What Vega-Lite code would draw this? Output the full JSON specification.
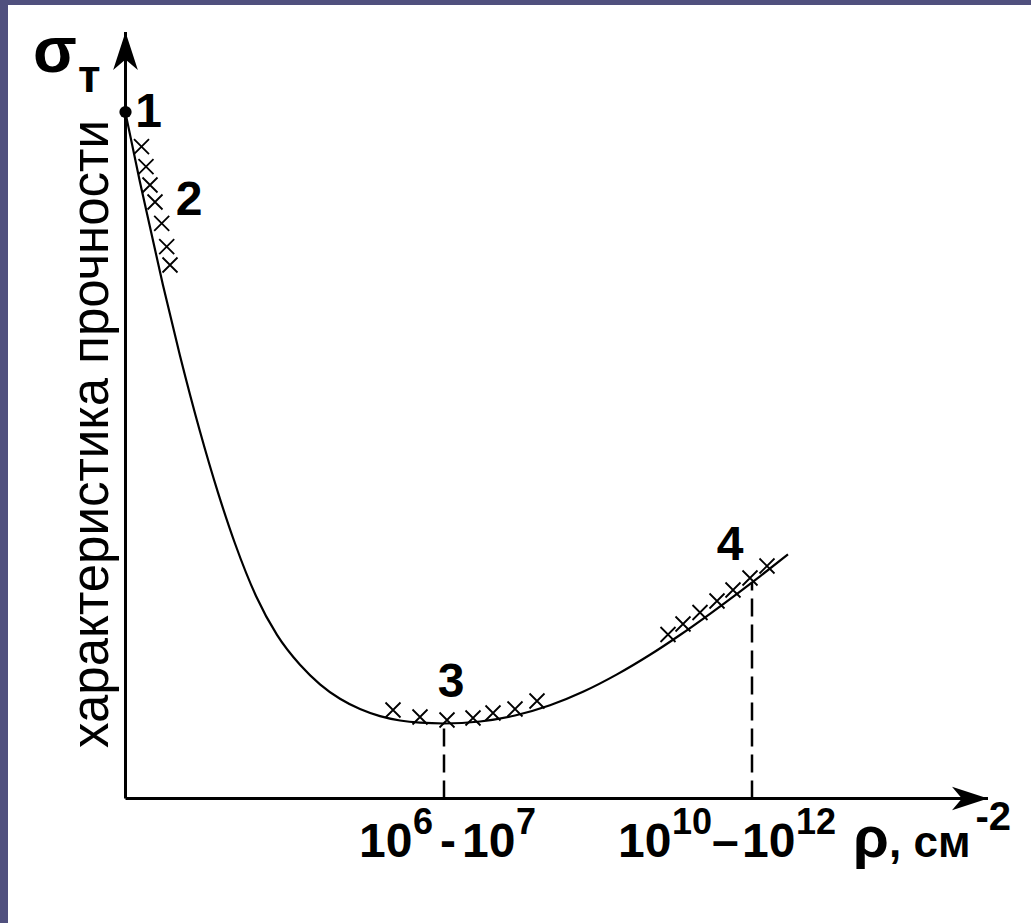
{
  "$schema": "https://vega.github.io/schema/vega-lite/v6.json",
  "width": 1031,
  "height": 923,
  "autosize": {"type": "fit", "contains": "padding"},
  "padding": {"left": 8, "top": 5, "right": 0, "bottom": 0},
  "background": "#50507e",
  "config": {"view": {"fill": "#ffffff", "stroke": null}, "axis": {"disable": true}},
  "datasets": {
    "curve": [
      {"x": 0, "y": 68.55}, {"x": 1.45, "y": 61.62}, {"x": 3.75, "y": 51.32}, {"x": 5.45, "y": 44.28},
      {"x": 7.45, "y": 36.7}, {"x": 9.25, "y": 30.59}, {"x": 10.95, "y": 25.5}, {"x": 13.05, "y": 20.25},
      {"x": 15.15, "y": 16.36}, {"x": 17.45, "y": 13.37}, {"x": 19.45, "y": 11.42}, {"x": 21.45, "y": 9.97},
      {"x": 23.45, "y": 8.95}, {"x": 25.45, "y": 8.24}, {"x": 27.45, "y": 7.8}, {"x": 29.45, "y": 7.58},
      {"x": 31.85, "y": 7.5}, {"x": 35.45, "y": 7.7}, {"x": 38.95, "y": 8.3}, {"x": 42.45, "y": 9.32},
      {"x": 45.75, "y": 10.67}, {"x": 49.15, "y": 12.41}, {"x": 52.45, "y": 14.37}, {"x": 55.45, "y": 16.35},
      {"x": 58.45, "y": 18.47}, {"x": 61.45, "y": 20.69}, {"x": 63.45, "y": 22.22}, {"x": 66.25, "y": 24.41}
    ],
    "crosses": [
      {"x": 1.6, "y": 65.18}, {"x": 2.05, "y": 63.18}, {"x": 2.45, "y": 61.35}, {"x": 2.95, "y": 59.65},
      {"x": 3.62, "y": 57.52}, {"x": 4.12, "y": 55.18}, {"x": 4.45, "y": 53.35},
      {"x": 26.75, "y": 8.85}, {"x": 29.45, "y": 8.15}, {"x": 32.15, "y": 7.85}, {"x": 34.75, "y": 8.05},
      {"x": 36.75, "y": 8.55}, {"x": 38.95, "y": 8.95}, {"x": 41.15, "y": 9.75},
      {"x": 54.25, "y": 16.4}, {"x": 55.75, "y": 17.45}, {"x": 57.45, "y": 18.6}, {"x": 59.15, "y": 19.75},
      {"x": 60.75, "y": 20.85}, {"x": 62.45, "y": 22.05}, {"x": 64.15, "y": 23.25}
    ],
    "axes": [
      {"x": 0, "y": 0, "x2": 86.25, "y2": 0},
      {"x": 0, "y": 0, "x2": 0, "y2": 76.65}
    ],
    "dashes": [
      {"x": 31.85, "y": 0, "x2": 31.85, "y2": 7.5},
      {"x": 62.65, "y": 0, "x2": 62.65, "y2": 21.6}
    ],
    "dot": [{"x": 0, "y": 68.65}],
    "arrowY": [{"x": 0, "y": 74.75}],
    "arrowX": [{"x": 84.45, "y": 0}],
    "nums": [
      {"x": 2.3, "y": 67.15, "t": "1"},
      {"x": 6.35, "y": 58.35, "t": "2"},
      {"x": 32.55, "y": 10.15, "t": "3"},
      {"x": 60.45, "y": 23.85, "t": "4"}
    ],
    "sigma": [{"x": -9.25, "y": 72.65, "t": "σ"}],
    "sub": [{"x": -4.75, "y": 70.65, "t": "т"}],
    "ylab": [{"x": -1.75, "y": 36.45, "t": "характеристика прочности"}],
    "big": [
      {"x": 23.35, "y": -5.85, "t": "10"},
      {"x": 31.45, "y": -5.85, "t": "-"},
      {"x": 33.65, "y": -5.85, "t": "10"},
      {"x": 49.25, "y": -5.85, "t": "10"},
      {"x": 58.65, "y": -5.85, "t": "–"},
      {"x": 61.65, "y": -5.85, "t": "10"}
    ],
    "sup": [
      {"x": 28.75, "y": -3.55, "t": "6"},
      {"x": 39.05, "y": -3.55, "t": "7"},
      {"x": 54.65, "y": -3.55, "t": "10"},
      {"x": 67.05, "y": -3.55, "t": "12"}
    ],
    "unit": [{"x": 76.35, "y": -5.85, "t": ", см"}],
    "unitsup": [{"x": 85.0, "y": -3.15, "t": "-2"}],
    "rho": [{"x": 72.75, "y": -5.85, "t": "ρ"}]
  },
  "encoding": {
    "x": {"field": "x", "type": "quantitative", "scale": {"domain": [-11.75, 90.55], "nice": false, "zero": false}},
    "y": {"field": "y", "type": "quantitative", "scale": {"domain": [-12.45, 79.35], "nice": false, "zero": false}}
  },
  "layer": [
    {
      "data": {"name": "axes"},
      "mark": {"type": "rule", "color": "#000000", "strokeWidth": 3},
      "encoding": {"x2": {"field": "x2"}, "y2": {"field": "y2"}}
    },
    {
      "data": {"name": "dashes"},
      "mark": {"type": "rule", "color": "#000000", "strokeWidth": 2.5, "strokeDash": [18, 8]},
      "encoding": {"x2": {"field": "x2"}, "y2": {"field": "y2"}}
    },
    {
      "data": {"name": "curve"},
      "mark": {"type": "line", "color": "#000000", "strokeWidth": 2.2, "interpolate": "monotone"}
    },
    {
      "data": {"name": "crosses"},
      "mark": {"type": "point", "shape": "M-1,-1L1,1M-1,1L1,-1", "filled": false, "color": "#000000", "strokeWidth": 1.8, "size": 225, "opacity": 1}
    },
    {
      "data": {"name": "dot"},
      "mark": {"type": "point", "shape": "circle", "filled": true, "color": "#000000", "size": 150, "opacity": 1}
    },
    {
      "data": {"name": "arrowY"},
      "mark": {"type": "point", "shape": "M0,-1L0.65,1L0,0.45L-0.65,1Z", "filled": true, "color": "#000000", "size": 1444, "opacity": 1}
    },
    {
      "data": {"name": "arrowX"},
      "mark": {"type": "point", "shape": "M0,-1L0.65,1L0,0.45L-0.65,1Z", "filled": true, "color": "#000000", "size": 1296, "angle": 90, "opacity": 1}
    },
    {
      "data": {"name": "nums"},
      "mark": {"type": "text", "font": "Liberation Sans", "fontWeight": "bold", "fontSize": 48, "align": "center", "baseline": "alphabetic", "color": "#000000"},
      "encoding": {"text": {"field": "t"}}
    },
    {
      "data": {"name": "sigma"},
      "mark": {"type": "text", "font": "Liberation Sans", "fontWeight": "bold", "fontSize": 64, "align": "left", "baseline": "alphabetic", "color": "#000000"},
      "encoding": {"text": {"field": "t"}}
    },
    {
      "data": {"name": "sub"},
      "mark": {"type": "text", "font": "Liberation Sans", "fontWeight": "bold", "fontSize": 46, "align": "left", "baseline": "alphabetic", "color": "#000000"},
      "encoding": {"text": {"field": "t"}}
    },
    {
      "data": {"name": "ylab"},
      "mark": {"type": "text", "font": "Liberation Sans", "fontSize": 51, "angle": 270, "align": "center", "baseline": "alphabetic", "color": "#000000"},
      "encoding": {"text": {"field": "t"}}
    },
    {
      "data": {"name": "big"},
      "mark": {"type": "text", "font": "Liberation Sans", "fontWeight": "bold", "fontSize": 48, "align": "left", "baseline": "alphabetic", "color": "#000000"},
      "encoding": {"text": {"field": "t"}}
    },
    {
      "data": {"name": "sup"},
      "mark": {"type": "text", "font": "Liberation Sans", "fontWeight": "bold", "fontSize": 36, "align": "left", "baseline": "alphabetic", "color": "#000000"},
      "encoding": {"text": {"field": "t"}}
    },
    {
      "data": {"name": "unit"},
      "mark": {"type": "text", "font": "Liberation Sans", "fontWeight": "bold", "fontSize": 44, "align": "left", "baseline": "alphabetic", "color": "#000000"},
      "encoding": {"text": {"field": "t"}}
    },
    {
      "data": {"name": "unitsup"},
      "mark": {"type": "text", "font": "Liberation Sans", "fontWeight": "bold", "fontSize": 40, "align": "left", "baseline": "alphabetic", "color": "#000000"},
      "encoding": {"text": {"field": "t"}}
    },
    {
      "data": {"name": "rho"},
      "mark": {"type": "text", "font": "Liberation Sans", "fontWeight": "bold", "fontSize": 58, "align": "left", "baseline": "alphabetic", "color": "#000000"},
      "encoding": {"text": {"field": "t"}}
    }
  ]
}
